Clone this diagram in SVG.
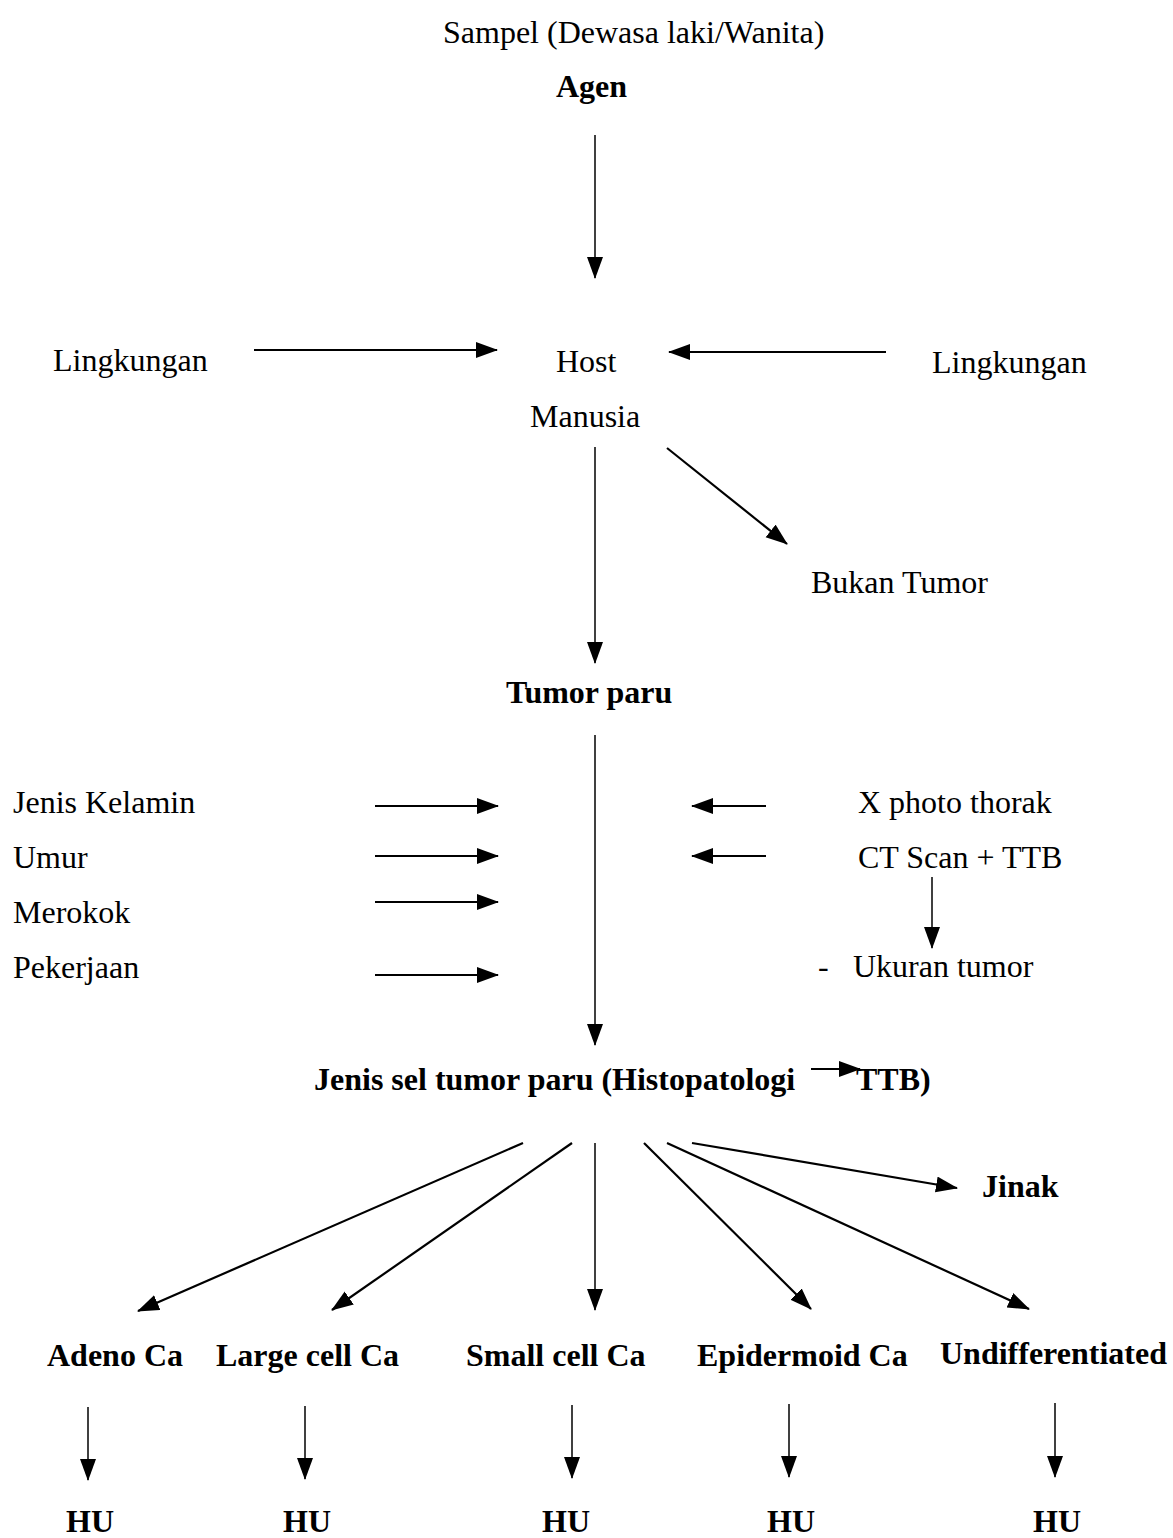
<svg xmlns="http://www.w3.org/2000/svg" width="1173" height="1538" viewBox="0 0 1173 1538">
<style>
text{font-family:"Liberation Serif","Times New Roman",serif;font-size:32px;fill:#000}
.b{font-weight:bold}
.c line{stroke:#000;stroke-width:2.2;marker-end:url(#ah)}
.c line.t{stroke-width:1.5}
</style>
<defs>
<marker id="ah" markerUnits="userSpaceOnUse" markerWidth="24" markerHeight="18" refX="21" refY="8" orient="auto">
<path d="M0,0 L22,8 L0,16 z" fill="#000"/>
</marker>
</defs>
<rect width="1173" height="1538" fill="#fff"/>
<g id="sampel"><text x="443" y="43">Sampel (Dewasa laki/Wanita)</text></g>
<g id="agen"><text class="b" x="556" y="97">Agen</text></g>
<g id="lingkungan-l"><text x="53" y="371">Lingkungan</text></g>
<g id="host"><text x="556" y="372">Host</text><text x="530" y="427">Manusia</text></g>
<g id="lingkungan-r"><text x="932" y="373">Lingkungan</text></g>
<g id="bukan-tumor"><text x="811" y="593">Bukan Tumor</text></g>
<g id="tumor-paru"><text class="b" x="506" y="703">Tumor paru</text></g>
<g id="faktor">
<text x="13" y="813">Jenis Kelamin</text>
<text x="13" y="868">Umur</text>
<text x="13" y="923">Merokok</text>
<text x="13" y="978">Pekerjaan</text>
</g>
<g id="xphoto"><text x="858" y="813">X photo thorak</text></g>
<g id="ctscan"><text x="858" y="868">CT Scan + TTB</text></g>
<g id="ukuran"><text x="818" y="977">-</text><text x="853" y="977">Ukuran tumor</text></g>
<g id="jenis-sel"><text class="b" x="314" y="1090">Jenis sel tumor paru (Histopatologi</text><text class="b" x="856" y="1090">TTB)</text></g>
<g id="jinak"><text class="b" x="982" y="1197">Jinak</text></g>
<g id="adeno"><text class="b" x="47" y="1366">Adeno Ca</text></g>
<g id="large"><text class="b" x="216" y="1366">Large cell Ca</text></g>
<g id="small"><text class="b" x="466" y="1366">Small cell Ca</text></g>
<g id="epidermoid"><text class="b" x="697" y="1366">Epidermoid Ca</text></g>
<g id="undiff"><text class="b" x="940" y="1364">Undifferentiated</text></g>
<g id="hu">
<text class="b" x="66" y="1532">HU</text>
<text class="b" x="283" y="1532">HU</text>
<text class="b" x="542" y="1532">HU</text>
<text class="b" x="767" y="1532">HU</text>
<text class="b" x="1033" y="1532">HU</text>
</g>
<g id="connectors" class="c">
<line class="t" x1="595" y1="135" x2="595" y2="278"/>
<line x1="254" y1="350" x2="497" y2="350"/>
<line x1="886" y1="352" x2="669" y2="352"/>
<line class="t" x1="595" y1="447" x2="595" y2="663"/>
<line x1="667" y1="448" x2="787" y2="544"/>
<line class="t" x1="595" y1="735" x2="595" y2="1045"/>
<line x1="375" y1="806" x2="498" y2="806"/>
<line x1="375" y1="856" x2="498" y2="856"/>
<line x1="375" y1="902" x2="498" y2="902"/>
<line x1="375" y1="975" x2="498" y2="975"/>
<line x1="766" y1="806" x2="692" y2="806"/>
<line x1="766" y1="856" x2="692" y2="856"/>
<line class="t" x1="932" y1="877" x2="932" y2="948"/>
<line x1="811" y1="1069" x2="860" y2="1069"/>
<line x1="523" y1="1143" x2="138" y2="1311"/>
<line x1="572" y1="1143" x2="332" y2="1310"/>
<line class="t" x1="595" y1="1143" x2="595" y2="1310"/>
<line x1="644" y1="1143" x2="811" y2="1309"/>
<line x1="667" y1="1143" x2="1029" y2="1309"/>
<line x1="692" y1="1143" x2="957" y2="1188"/>
<line class="t" x1="88" y1="1407" x2="88" y2="1480"/>
<line class="t" x1="305" y1="1406" x2="305" y2="1479"/>
<line class="t" x1="572" y1="1405" x2="572" y2="1478"/>
<line class="t" x1="789" y1="1404" x2="789" y2="1477"/>
<line class="t" x1="1055" y1="1403" x2="1055" y2="1477"/>
</g>
</svg>
